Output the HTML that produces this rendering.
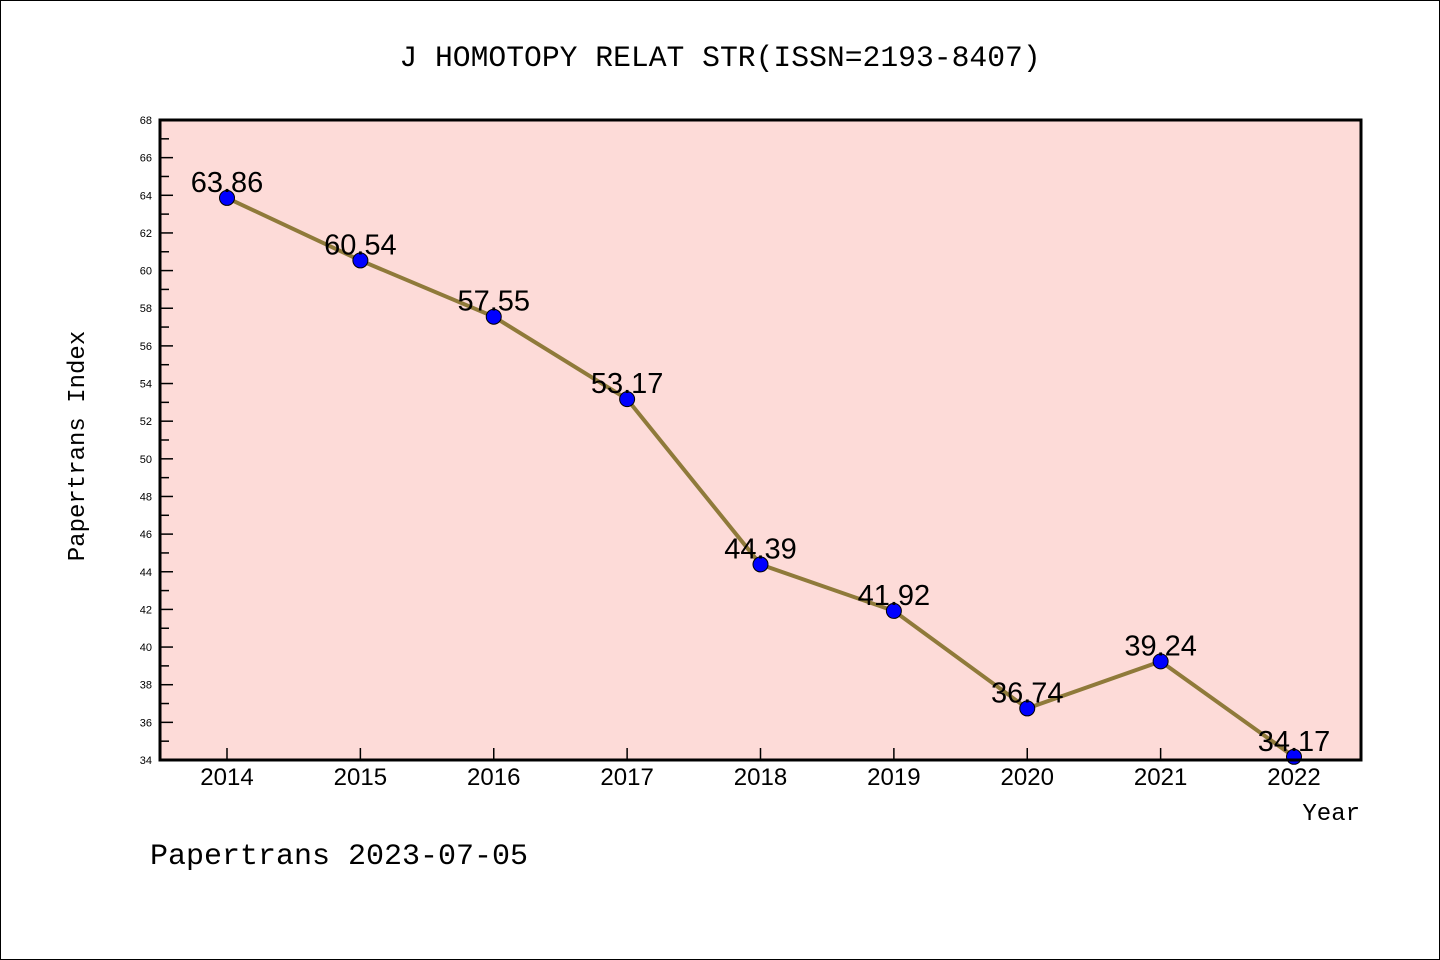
<!DOCTYPE html>
<html><head><meta charset="utf-8"><style>
html,body{margin:0;padding:0;background:#fff}
svg{display:block}
text{font-family:"Liberation Mono","WenQuanYi Zen Hei",monospace;fill:#000}
</style></head><body>
<svg id="chart" width="1440" height="960" xmlns="http://www.w3.org/2000/svg">
<rect x="0.5" y="0.5" width="1439" height="959" fill="#fff" stroke="#000"/>
<text x="720" y="66" text-anchor="middle" font-size="29.7">J HOMOTOPY RELAT STR(ISSN=2193-8407)</text>
<rect x="160" y="120" width="1201" height="640" fill="#fddbd8"/>
<g id="yaxis"></g>
<g id="xaxis"></g>
<g id="series"></g>
<rect x="160" y="120" width="1201" height="640" fill="none" stroke="#000" stroke-width="3"/>
<text x="0" y="0" transform="translate(84,446) rotate(-90)" text-anchor="middle" font-size="24">Papertrans Index</text>
<text x="1360" y="820" text-anchor="end" font-size="24">Year</text>
<text x="150" y="864" font-size="30">Papertrans 2023-07-05</text>
</svg>
<script>
const years=["2014","2015","2016","2017","2018","2019","2020","2021","2022"];
const values=[63.86,60.54,57.55,53.17,44.39,41.92,36.74,39.24,34.17];
const valueLabels=["63.86","60.54","57.55","53.17","44.39","41.92","36.74","39.24","34.17"];
const yMin=34,yMax=68;
const NS="http://www.w3.org/2000/svg";
function xS(i){return 227+i*(1294-227)/(years.length-1);}
function yS(v){return 760-(v-yMin)/(yMax-yMin)*640;}
function mk(tag,attrs,parent){const e=document.createElementNS(NS,tag);for(const k in attrs)e.setAttribute(k,attrs[k]);parent.appendChild(e);return e;}
const ya=document.getElementById('yaxis'),xa=document.getElementById('xaxis'),se=document.getElementById('series');
for(let v=yMin;v<=yMax;v++){
  const y=yS(v),major=(v%2===0);
  const t=mk('line',{x1:160,x2:major?173:169,y1:y,y2:y,stroke:'#000','stroke-width':1.5},ya);
  
  
  if(major){const l=mk('text',{x:152,y:y+4,'text-anchor':'end','font-size':11,style:'font-family:"Liberation Sans",sans-serif'},ya);l.textContent=v;
  
  }
}
years.forEach((yr,i)=>{
  const x=xS(i);
  const t=mk('line',{x1:x,x2:x,y1:760,y2:748,stroke:'#000','stroke-width':1.5},xa);
  
  
  const l=mk('text',{x:x,y:785,'text-anchor':'middle','font-size':24,style:'font-family:"Liberation Sans",sans-serif'},xa);l.textContent=yr;
  
  
});
const line=mk('polyline',{points:values.map((v,i)=>xS(i)+','+yS(v)).join(' '),fill:'none',stroke:'#8f7a3a','stroke-width':4},se);


values.forEach((v,i)=>{
  const c=mk('circle',{cx:xS(i),cy:yS(v),r:7.5,fill:'#0000ff',stroke:'#000','stroke-width':1},se);
  
  
  const l=mk('text',{x:xS(i),y:yS(v)-6,'text-anchor':'middle','font-size':29,style:'font-family:"Liberation Sans",sans-serif'},se);l.textContent=valueLabels[i];
  
  
});
</script>
</body></html>
